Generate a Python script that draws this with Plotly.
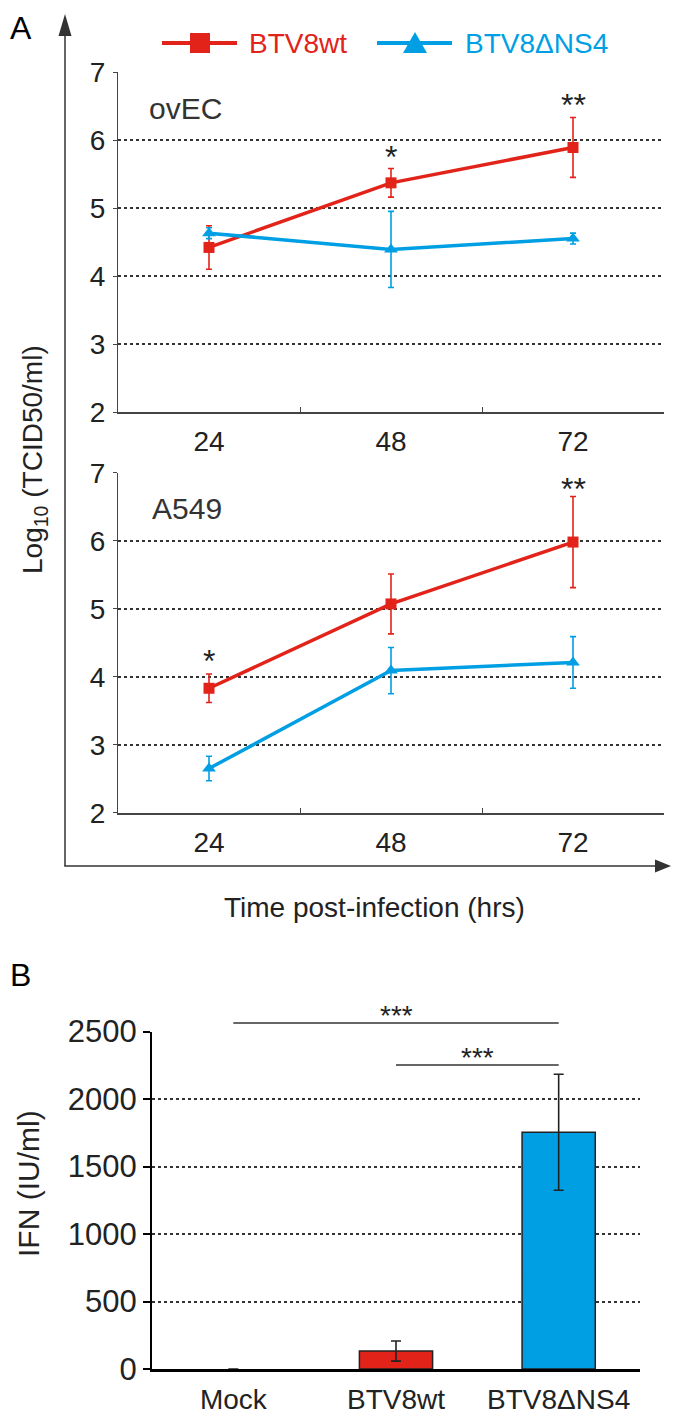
import plotly.graph_objects as go

PAGE_W, PAGE_H = 680, 1424
OFF = 8  # default page margin around the plot div
W, H = PAGE_W - 2 * OFF, PAGE_H - 2 * OFF

# ---------------- data ----------------
hours = ["24", "48", "72"]

ovec_wt = [4.42, 5.37, 5.89]
ovec_wt_err = [0.32, 0.21, 0.44]
ovec_ns4 = [4.63, 4.39, 4.55]
ovec_ns4_err = [0.08, 0.56, 0.08]

a549_wt = [3.83, 5.07, 5.98]
a549_wt_err = [0.21, 0.44, 0.67]
a549_ns4 = [2.65, 4.09, 4.21]
a549_ns4_err = [0.18, 0.34, 0.38]

ovec_stars_x = ["48", "72"]
ovec_stars_y = [5.85, 6.62]
ovec_stars_t = ["*", "**"]
a549_stars_x = ["24", "72"]
a549_stars_y = [4.34, 6.87]
a549_stars_t = ["*", "**"]

ifn_groups = ["Mock", "BTV8wt", "BTV8ΔNS4"]
ifn_values = [0, 133, 1754]
ifn_err = [0, 75, 430]
bracket_from = ["Mock", "BTV8wt"]
bracket_to = ["BTV8ΔNS4", "BTV8ΔNS4"]
bracket_y = [2564, 2253]
bracket_text = ["***", "***"]

series_names = ["BTV8wt", "BTV8ΔNS4"]

# ---------------- style ----------------
RED = "#e2231a"
BLUE = "#009fe3"
DARK = "#222222"
FONT = "Liberation Sans, Arial, sans-serif"


def px(x):
    return (x - OFF) / W


def py(y):
    return 1 - (y - OFF) / H


fig = go.Figure()

panels = [
    ("x", "y", ovec_wt, ovec_wt_err, ovec_ns4, ovec_ns4_err),
    ("x2", "y2", a549_wt, a549_wt_err, a549_ns4, a549_ns4_err),
]
for xa, ya, wt, wte, ns, nse in panels:
    fig.add_trace(go.Scatter(
        x=hours, y=wt, xaxis=xa, yaxis=ya, mode="lines+markers",
        name=series_names[0], showlegend=False, cliponaxis=False,
        line=dict(color=RED, width=3.5),
        marker=dict(symbol="square", size=11, color=RED),
        error_y=dict(type="data", array=wte, color=RED, thickness=1.6, width=3),
    ))
    fig.add_trace(go.Scatter(
        x=hours, y=ns, xaxis=xa, yaxis=ya, mode="lines+markers",
        name=series_names[1], showlegend=False, cliponaxis=False,
        line=dict(color=BLUE, width=3.5),
        marker=dict(symbol="triangle-up", size=12, color=BLUE),
        error_y=dict(type="data", array=nse, color=BLUE, thickness=1.6, width=3),
    ))

fig.add_trace(go.Bar(
    x=ifn_groups, y=ifn_values, xaxis="x3", yaxis="y3", width=0.45,
    marker=dict(color=["rgba(0,0,0,0)", RED, BLUE],
                line=dict(color=DARK, width=[0, 1.5, 1.5])),
    error_y=dict(type="data", array=ifn_err, color=DARK, thickness=1.6, width=5),
    showlegend=False,
))

# significance brackets (on a taller helper axis sharing the bar scale)
for a, b, y in zip(bracket_from, bracket_to, bracket_y):
    fig.add_trace(go.Scatter(
        x=[a, b], y=[y, y], xaxis="x3", yaxis="y4", mode="lines",
        line=dict(color="#333333", width=1.5), cliponaxis=False,
        showlegend=False, hoverinfo="skip",
    ))

grid = dict(showgrid=True, griddash="dot", gridcolor="#333333", gridwidth=1.5)

line_x = dict(
    type="category", range=[-0.5, 2.5], domain=[px(118), px(664)],
    tickson="boundaries", ticks="inside", ticklen=5, tickcolor="#444",
    showline=True, linecolor="#444", linewidth=1.5, showgrid=False,
    tickfont=dict(size=28, color=DARK, family=FONT), ticklabelstandoff=4,
    automargin=False,
)
line_y = dict(
    range=[2, 7], tickvals=[2, 3, 4, 5, 6, 7], zeroline=False,
    showline=True, linecolor="#444", linewidth=1, ticks="outside", ticklen=4,
    tickcolor="#444", tickfont=dict(size=28, color=DARK, family=FONT),
    ticklabelstandoff=2, automargin=False, **grid,
)

bar_top_px = 1031.6
bar_zero_px = 1369.0
helper_top_px = 980.0
helper_max = 2500 * (bar_zero_px - helper_top_px) / (bar_zero_px - bar_top_px)

fig.update_layout(
    width=W, height=H, autosize=False,
    margin=dict(l=0, r=0, t=0, b=0, pad=0, autoexpand=False),
    paper_bgcolor="white", plot_bgcolor="rgba(0,0,0,0)",
    font=dict(family=FONT, color=DARK),
    showlegend=False,
    xaxis=dict(anchor="y", **line_x),
    yaxis=dict(anchor="x", domain=[py(412), py(72)], **line_y),
    xaxis2=dict(anchor="y2", **line_x),
    yaxis2=dict(anchor="x2", domain=[py(812.7), py(472.7)], **line_y),
    xaxis3=dict(
        anchor="y3", type="category", range=[-0.5, 2.5],
        domain=[px(152), px(640)], showline=True, linecolor="black",
        linewidth=3, ticks="", showgrid=False, automargin=False,
        tickfont=dict(size=28, color=DARK, family=FONT), ticklabelstandoff=3,
    ),
    yaxis3=dict(
        anchor="x3", range=[0, 2500], tickvals=[0, 500, 1000, 1500, 2000, 2500],
        domain=[py(bar_zero_px), py(bar_top_px)], showline=True,
        linecolor="black", linewidth=2, ticks="outside", ticklen=7,
        tickcolor="black", tickwidth=1.5, zeroline=False, automargin=False,
        tickfont=dict(size=31, color=DARK, family=FONT),
        ticklabelstandoff=0, **grid,
    ),
    yaxis4=dict(
        anchor="x3", range=[0, helper_max],
        domain=[py(bar_zero_px), py(helper_top_px)], visible=False,
        showgrid=False, zeroline=False,
    ),
)

C = dict(xanchor="center", yanchor="middle", showarrow=False)
ann = []
# significance stars on line panels
for xs, ys, ts, xr, yr in [
    (ovec_stars_x, ovec_stars_y, ovec_stars_t, "x", "y"),
    (a549_stars_x, a549_stars_y, a549_stars_t, "x2", "y2"),
]:
    for x, y, t in zip(xs, ys, ts):
        ann.append(dict(x=hours.index(x), y=y, xref=xr, yref=yr, text=t,
                        yshift=-7, font=dict(size=32, color=DARK), **C))

# stars over brackets
for a, b, y, t in zip(bracket_from, bracket_to, bracket_y, bracket_text):
    ia, ib = ifn_groups.index(a), ifn_groups.index(b)
    ann.append(dict(x=(ia + ib) / 2, y=y, xref="x3", yref="y4", text=t,
                    yshift=7, font=dict(size=28, color=DARK), **C))

# panel labels and texts
ann += [
    dict(x=px(8), y=py(8), xref="paper", yref="paper", text="A",
         font=dict(size=32, color="black"),
         **{**C, "xanchor": "left", "yanchor": "top"}),
    dict(x=px(8), y=py(975), xref="paper", yref="paper", text="B",
         font=dict(size=32, color="black"), **{**C, "xanchor": "left"}),
    dict(x=px(147), y=py(108), xref="paper", yref="paper", text="ovEC",
         font=dict(size=30, color="#333"), **{**C, "xanchor": "left"}),
    dict(x=px(150), y=py(508), xref="paper", yref="paper", text="A549",
         font=dict(size=30, color="#333"), **{**C, "xanchor": "left"}),
    dict(x=px(374), y=py(907), xref="paper", yref="paper",
         text="Time post-infection (hrs)", font=dict(size=28, color=DARK), **C),
    dict(x=px(34), y=py(460), xref="paper", yref="paper",
         text="Log<sub>10</sub> (TCID50/ml)", textangle=-90,
         font=dict(size=28, color=DARK), **C),
    dict(x=px(28), y=py(1184), xref="paper", yref="paper",
         text="IFN (IU/ml)", textangle=-90,
         font=dict(size=30, color=DARK), **C),
    # legend texts
    dict(x=px(247), y=py(43), xref="paper", yref="paper", text=series_names[0],
         font=dict(size=28, color=RED), **{**C, "xanchor": "left"}),
    dict(x=px(463), y=py(43), xref="paper", yref="paper", text=series_names[1],
         font=dict(size=28, color=BLUE), **{**C, "xanchor": "left"}),
]
fig.update_layout(annotations=ann)

AX = "#333333"
shapes = [
    # big axis arrows of panel A
    dict(type="line", xref="paper", yref="paper", x0=px(65), x1=px(65),
         y0=py(866), y1=py(32), line=dict(color=AX, width=1.5)),
    dict(type="path", xref="paper", yref="paper",
         path=f"M {px(58.5)} {py(36)} L {px(71.5)} {py(36)} L {px(65)} {py(14)} Z",
         fillcolor=AX, line=dict(width=0)),
    dict(type="line", xref="paper", yref="paper", x0=px(64.3), x1=px(660),
         y0=py(866), y1=py(866), line=dict(color=AX, width=1.5)),
    dict(type="path", xref="paper", yref="paper",
         path=f"M {px(655)} {py(859.5)} L {px(655)} {py(872.5)} L {px(671)} {py(866)} Z",
         fillcolor=AX, line=dict(width=0)),
    # legend symbols
    dict(type="line", xref="paper", yref="paper", x0=px(162), x1=px(237),
         y0=py(43), y1=py(43), line=dict(color=RED, width=4)),
    dict(type="rect", xref="paper", yref="paper", x0=px(190), x1=px(210),
         y0=py(53), y1=py(33), fillcolor=RED, line=dict(width=0)),
    dict(type="line", xref="paper", yref="paper", x0=px(377), x1=px(452),
         y0=py(43), y1=py(43), line=dict(color=BLUE, width=4)),
    dict(type="path", xref="paper", yref="paper",
         path=f"M {px(403)} {py(53)} L {px(427)} {py(53)} L {px(415)} {py(32)} Z",
         fillcolor=BLUE, line=dict(width=0)),
]
fig.update_layout(shapes=shapes)

fig.write_html("out.html")
